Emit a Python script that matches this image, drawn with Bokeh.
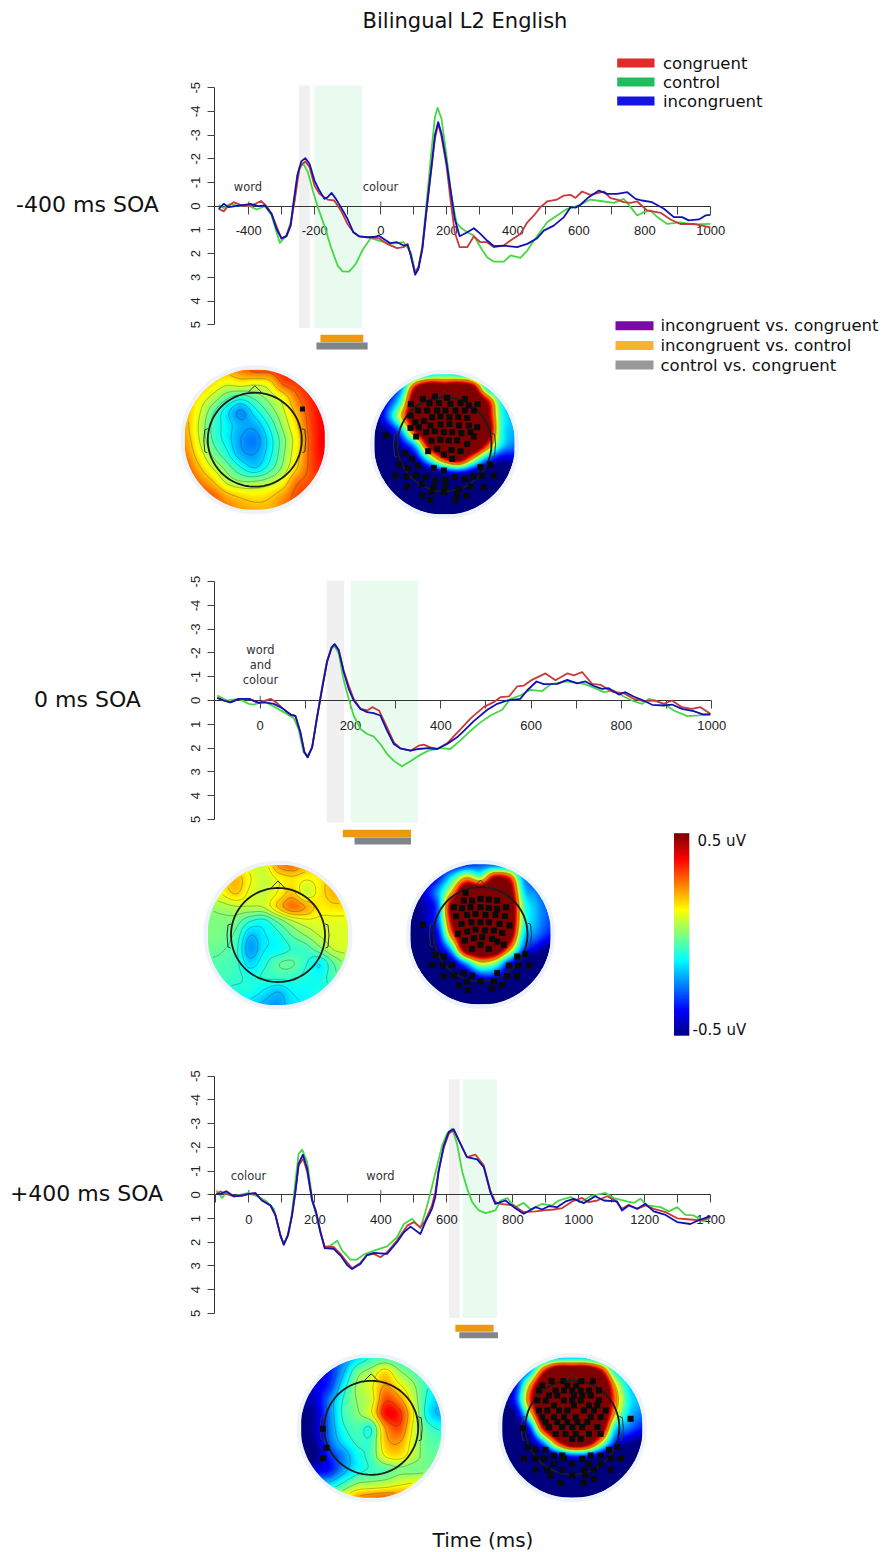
import math
import numpy as np
from bokeh.embed import file_html
from bokeh.resources import INLINE
from bokeh.plotting import figure
from bokeh.core.properties import value
from bokeh.models import (Range1d, LinearAxis, FixedTicker, LinearColorMapper)

# ---------------- ERP data: time (ms) and amplitude (uV), negative plotted up
P1_T_INC = [-491,-476,-461,-441,-416,-396,-371,-351,-331,-316,-301,-286,-273,-266,-253,-241,-229,-216,-201,-186,-171,-161,-149,-136,-121,-101,-83,-66,-41,-21,-6,9,29,49,69,81,91,104,114,126,141,154,164,174,184,199,214,224,239,262,282,302,322,343,373,413,444,474,494,524,555,575,590,605,630,661,686,716,747,772,792,822,858,888,913,933,964,984,999]
P1_V_INC = [.11,-.1,.04,0,-.05,-.1,0,-.03,.32,.96,1.35,1.27,.82,0,-1.3,-1.89,-2.03,-1.79,-1.08,-.66,-.31,-.38,-.56,-.31,.04,.53,1.1,1.27,1.31,1.3,1.24,1.38,1.56,1.52,1.66,1.63,2.08,2.89,2.65,1.8,-.17,-1.72,-2.99,-3.55,-3.06,-1.86,-.45,.53,1.27,1.1,.93,1.17,1.45,1.69,1.66,1.73,1.59,1.35,1.03,.82,.46,.04,.06,-.06,-.38,-.66,-.52,-.52,-.59,-.31,-.24,-.17,.11,.46,.46,.6,.56,.39,.37]
P1_T_CON = [-491,-476,-466,-446,-416,-391,-363,-346,-331,-301,-286,-273,-261,-246,-229,-216,-201,-186,-161,-141,-121,-101,-83,-66,-41,-6,19,49,69,81,91,104,114,126,141,154,164,174,184,199,214,224,239,262,282,302,322,343,373,393,423,444,464,484,504,534,555,575,590,610,635,676,696,716,736,757,777,807,848,878,908,948,999]
P1_V_CON = [.11,.22,.04,-.17,0,-.03,-.22,0,.32,1.38,1.24,.75,-.24,-1.65,-1.89,-1.65,-.87,-.52,-.28,-.24,.18,.75,1.1,1.27,1.31,1.35,1.59,1.77,1.73,1.59,2.08,2.79,2.58,1.73,-.10,-1.65,-2.85,-3.48,-2.93,-1.72,.04,1.1,1.73,1.73,1.27,1.52,1.52,1.73,1.66,1.45,1.17,.68,.39,.04,-.2,-.28,-.45,-.48,-.35,-.62,-.48,-.62,-.34,-.28,-.17,-.14,-.2,.18,.28,.56,.75,.75,.89]
P1_T_CTL = [-491,-476,-456,-431,-396,-376,-351,-331,-306,-286,-273,-261,-251,-236,-221,-206,-191,-171,-151,-131,-116,-96,-76,-56,-31,-6,29,69,91,104,114,126,139,152,164,172,184,199,214,229,241,262,282,302,322,343,373,393,423,444,464,504,534,565,605,635,666,706,736,757,777,797,817,838,868,908,948,999]
P1_V_CTL = [-.06,.08,-.1,0,0,.14,0,.39,1.55,1.24,.68,-.31,-1.44,-1.83,-1.44,-.66,.04,.82,1.73,2.5,2.75,2.76,2.44,1.87,1.35,1.45,1.59,1.52,1.94,2.79,2.58,1.66,-.17,-2.14,-3.76,-4.15,-3.69,-2.14,-.45,.68,.89,1.1,1.24,1.73,2.15,2.34,2.34,2.08,2.18,1.87,1.45,.68,.39,.11,-.06,-.28,-.22,-.14,-.31,.04,.39,.25,.18,.46,.75,.68,.77,.75]

P2_T_INC = [-95,-81,-66,-47,-25,-3,11,30,48,67,78,89,98,105,115,126,137,148,158,165,174,185,196,207,222,237,251,266,281,296,310,333,351,373,392,414,436,450,473,503,525,547,576,591,612,628,658,680,702,720,739,757,772,794,809,827,849,868,894,912,934,960,982,997]
P2_V_INC = [-.11,0,.08,-.07,-.07,.1,.08,.14,.31,.59,.65,1.34,2.18,2.39,1.97,.7,-.49,-1.62,-2.23,-2.37,-2.11,-1.2,-.49,0,.35,.49,.53,.63,1.27,1.83,2.01,2.11,2.04,2.0,2.04,1.83,1.55,1.3,.87,.39,.14,0,-.07,-.42,-.8,-.69,-.7,-.87,-.72,-.8,-.61,-.49,-.52,-.25,-.35,-.17,0,.18,.21,.17,.35,.45,.59,.59]
P2_T_CON = [-95,-81,-66,-47,-25,-3,11,23,37,48,67,78,89,98,105,115,126,137,148,158,165,174,185,196,207,222,237,248,263,281,296,310,333,351,362,377,392,414,429,444,466,495,517,532,551,569,584,602,632,654,680,695,713,735,754,768,783,805,827,849,875,894,912,934,956,975,997]
P2_V_CON = [-.11,0,.08,-.07,-.07,.1,0,-.07,.1,.31,.59,.65,1.34,2.18,2.39,1.97,.7,-.49,-1.62,-2.23,-2.37,-2.11,-1.25,-.63,-.07,.35,.42,.28,.42,1.13,1.76,2.01,2.11,1.9,1.86,1.97,2.04,1.8,1.5,1.2,.75,.28,.07,-.14,-.17,-.59,-.63,-.87,-1.14,-.85,-1.14,-1.06,-1.2,-.7,-.66,-.49,-.35,-.31,-.07,.03,0,.14,0,.28,.35,.28,.56]
P2_T_CTL = [-95,-73,-47,-25,-14,8,30,52,74,85,96,105,115,126,137,148,158,165,174,185,196,207,222,237,251,266,281,296,314,329,351,373,399,421,443,466,488,510,536,554,576,599,624,643,680,717,739,761,783,805,827,846,861,894,916,946,971,997]
P2_V_CTL = [-.21,0,-.07,.14,.17,.03,.25,.49,.73,1.2,2.18,2.32,1.97,.7,-.56,-1.69,-2.18,-2.28,-1.97,-.85,-.07,.63,1.2,1.41,1.51,1.83,2.25,2.54,2.77,2.6,2.32,2.11,2.0,2.04,1.69,1.27,.92,.63,.39,-.07,-.21,-.45,-.39,-.68,-.8,-.7,-.54,-.35,-.42,-.17,.03,.14,-.07,.14,.42,.66,.63,.56]

P3_T_INC = [-98,-86,-68,-45,-20,0,20,40,66,81,96,106,118,131,141,151,164,177,192,204,217,230,257,278,298,313,338,358,379,419,449,470,490,520,535,555,565,575,591,606,621,636,661,692,712,732,747,763,778,803,833,869,889,909,934,960,985,1015,1050,1076,1116,1131,1151,1177,1202,1227,1263,1298,1338,1369,1399]
P3_V_INC = [-.04,-.04,-.15,.07,.03,-.04,-.07,.24,.45,.87,1.72,2.1,1.72,.87,-.11,-1.31,-1.69,-1.1,.24,.73,1.58,2.25,2.28,2.56,2.96,3.13,2.92,2.54,2.45,2.49,2.0,1.58,1.34,1.65,1.15,.59,.1,-.96,-2.08,-2.65,-2.76,-2.3,-1.59,-1.49,-1.17,-.11,.38,.31,.24,.52,.8,.52,.62,.48,.52,.28,.17,.35,.06,.24,.28,.66,.45,.59,.38,.7,.85,1.15,1.23,1.04,.9]
P3_T_CON = [-98,-86,-68,-45,-20,0,20,40,66,81,96,106,118,131,141,151,165,177,192,204,217,230,257,278,298,313,338,358,379,399,419,449,480,500,520,535,555,565,576,591,606,621,636,661,687,712,732,747,763,803,833,869,894,924,950,980,1010,1030,1056,1086,1111,1131,1151,1177,1202,1227,1263,1298,1338,1369,1399]
P3_V_CON = [-.04,-.14,-.04,.07,.03,-.04,-.07,.24,.45,.87,1.72,2.1,1.72,.87,-.1,-1.24,-1.52,-.96,.24,.73,1.55,2.2,2.2,2.49,2.85,3.1,2.87,2.54,2.49,2.63,2.42,1.93,1.3,1.15,1.37,1.08,.45,-.11,-1.1,-1.99,-2.58,-2.72,-2.3,-1.59,-1.69,-1.24,-.18,.31,.38,.45,.73,.7,.66,.62,.56,.28,.13,.31,.24,.06,.24,.59,.42,.59,.45,.59,.73,.99,1.04,1.08,.94]
P3_T_CTL = [-98,-81,-66,-45,-5,25,50,76,96,106,121,131,141,151,162,177,192,204,217,230,248,268,283,308,328,348,379,419,449,470,495,520,535,551,571,586,601,616,631,647,662,677,697,717,747,763,783,808,833,854,889,919,939,975,1005,1035,1081,1106,1146,1167,1187,1207,1248,1273,1298,1323,1348,1379,1399]
P3_V_CTL = [-.18,.13,-.11,.06,-.07,.06,.24,.59,1.72,2.07,1.65,.73,-.54,-1.73,-1.9,-1.38,.17,.87,1.58,2.18,2.14,1.93,2.35,2.73,2.73,2.52,2.35,2.17,1.79,1.23,1.01,1.41,.73,-.11,-1.24,-2.08,-2.58,-2.79,-2.15,-.96,-.25,.31,.66,.77,.66,.24,.14,.52,.34,.62,.38,.45,.24,.1,.31,.06,-.08,.14,.28,.34,.17,.45,.52,.7,.52,.85,.87,1.13,.94]

# windows (ms)
P1_GRAY = (-248, -215); P1_GREEN = (-201, -56); P1_ORANGE = (-183, -53); P1_SIG = (-195, -40)
P2_GRAY = (147, 186);   P2_GREEN = (201, 350);  P2_ORANGE = (183, 334);  P2_SIG = (209, 334)
P3_GRAY = (606, 639);   P3_GREEN = (648, 752);  P3_ORANGE = (626, 742);  P3_SIG = (638, 755)

LEGEND_TOP = ["congruent", "control", "incongruent"]
LEGEND_TOP_COLORS = ["#e02b2b", "#1fbd5e", "#1414e0"]
LEGEND_CMP = ["incongruent vs. congruent", "incongruent vs. control", "control vs. congruent"]
LEGEND_CMP_COLORS = ["#7a0aa8", "#f5b32e", "#999999"]

# ---------------- topographies: 11 x 11 readings, tenths of a microvolt
MAP_A1 = [
 [2,2,2,2,2.5,3,3,3.5,3.5,3.8,3.8],
 [2.5,2.2,1.5,1.0,1.2,1.0,1.3,2.8,3.2,3.5,3.8],
 [2.2,1.4,.6,-.3,-.8,-.3,.4,1.2,2.6,3.4,3.8],
 [2,1,-.3,-1.4,-2.3,-1.3,-.3,.7,2,3.2,3.8],
 [2,.8,-.6,-1.3,-2,-2,-1,.3,1.6,3.1,3.8],
 [2.2,.9,-.5,-1.3,-2.2,-2.5,-1.4,-.1,1.3,3,3.9],
 [2.5,1.3,0,-.9,-2,-2.2,-1.3,0,1.4,3,3.8],
 [3,1.9,.8,-.1,-1,-1.6,-.8,.3,1.7,3,3.6],
 [3.2,2.6,1.8,.7,.2,.2,.5,1.2,2.6,3,3.3],
 [3.5,3.2,2.8,2,1.6,1.4,1.6,2.2,3,3.2,3.3],
 [3.5,3.5,3,2.6,2.2,2,2,2.5,3,3.3,3.3]]
MAP_A2 = [
 [-5,-5,-4,-2.5,-1.5,-1,-1.5,-2,-3,-4,-5],
 [-5,-4.5,-2,5,8,7,8,6,-1,-3,-4],
 [-5,-3.5,0,8,9,9,9,9,5,-1,-2.5],
 [-5,-2.5,2,8,9,9,9,9,6,-.5,-2],
 [-5,-4.5,-1.5,5,9,9,9,9,7,-.5,-2],
 [-6,-6,-4,-1,6,9,9,9,4,-1,-2.5],
 [-6,-6,-6,-4,0,4,6,2,-2,-4,-4],
 [-6,-6,-6,-6,-5,-4,-3.5,-4.5,-5.5,-6,-6],
 [-6]*11, [-6]*11, [-6]*11]
MAP_B1 = [
 [1.3,1.3,1.3,1,.8,2.2,2.6,2,1.5,1.5,1.5],
 [1.2,1.5,1.9,1.2,.7,1.2,1.5,1.2,1.4,2,2],
 [.8,1.2,1.7,1,.7,1.2,1.8,.8,1.4,2,2],
 [.2,.4,.6,.6,.7,1.7,2.6,2.1,1.4,1.5,1.5],
 [0,0,-.1,-.8,-1,-.2,.6,1,1,1,1],
 [0,-.1,-.5,-1.8,-1.4,-1,-.3,.2,.7,.9,.9],
 [-.2,-.3,-.7,-2.2,-1.4,-1.2,-.8,-.6,0,.7,.8],
 [-.4,-.5,-.7,-1.6,-1,-.4,-.3,-.8,-1.3,-.3,.3],
 [-.5,-.6,-.7,-1,-.8,-.7,-.7,-1,-1.1,-.5,0],
 [-1,-.9,-1,-1,-1.4,-1.8,-1.3,-1.2,-1,-.8,-.5],
 [-1,-1,-1.2,-1.6,-2,-2.2,-1.5,-1.3,-1,-1,-1]]
MAP_B2 = [
 [-5,-5,-4.5,-4,-3.5,-3,-3,-3.5,-4,-4.5,-5],
 [-5,-4.5,-3.5,-1,2,.5,5,4,-2,-3.5,-4],
 [-5,-4,-2,2,8,8,9,7,-1,-2.5,-3.5],
 [-5,-4.5,-2.5,6,9,9,9,8,0,-2,-3],
 [-5,-4.5,-2.5,5,9,9,9,8,0,-2,-3],
 [-5,-5,-3.5,3,8,9,9,7,-1,-2.5,-3.5],
 [-5.5,-5.5,-4.5,-1,7,9,8,3,-2.5,-4,-5],
 [-6,-6,-6,-4.5,-1.5,1.5,.5,-3,-5,-6,-6],
 [-6,-6,-6,-6,-5,-3.5,-3.5,-5,-6,-6,-6],
 [-6]*11, [-6]*11]
MAP_C1 = [
 [-3,-3,-3,-2.5,-1.5,-.8,-.5,-.8,-1,-1,-1],
 [-3.5,-3.5,-3.5,-2,-.2,.5,1.5,.3,-.4,-1,-1],
 [-4,-4,-3.3,-1.3,.3,1,2.2,1.3,.3,-.8,-1.5],
 [-4.5,-4.2,-2.5,-.8,.2,.8,3,2.4,.7,-1,-1.8],
 [-5,-4.5,-2.5,-.7,0,1,3.6,3.4,1.2,-1.2,-2],
 [-5,-4.5,-2.6,-1,-.5,-.8,2.2,3,1,-.5,-1],
 [-5,-4.7,-2.8,-1.5,-.7,-.6,1.8,2.2,.8,-.3,-.4],
 [-5.5,-5,-3.4,-2.4,-1.2,-.5,1.2,1.5,.6,-.2,-.2],
 [-4,-4,-3.6,-2.2,-1.2,-.7,-.4,0,-.1,0,0],
 [-2,-2,-1.6,-.7,.2,.4,.6,1,1.2,1,1],
 [-1,-1,0,1,2.2,2.6,2.8,2.6,2,1.5,1]]
MAP_C2 = [
 [-5,-5,-4,-3,-2,-1.8,-2,-3,-4,-5,-5],
 [-5,-4,-2,4,8,8,8,5,-1,-2.5,-4],
 [-5,-3.5,2,8,9,9,9,9,2,-1.5,-2.5],
 [-5,-3,3.5,9,9,9,9,9,3,-1,-2],
 [-5.5,-4.5,1,8,9,9,9,9,2,-1.5,-2.5],
 [-6,-5.5,-3,5,9,9,9,7,-1,-2.5,-3.5],
 [-6,-6,-5,-1.5,4,8,7,2,-3,-4.5,-5],
 [-6,-6,-6,-5.5,-4,-3,-3,-4.5,-5.5,-6,-6],
 [-6]*11, [-6]*11, [-6]*11]

# significant electrodes, offsets from the map centre in units of radius/210
EL_A1 = [(143,-92)]
EL_A2 = [(-101,-121),(-65,-136),(-29,-143),(8,-139),(61,-136),(99,-121),(-45,-123),(-17,-123),(18,-121),(48,-123),(73,-116),
 (-79,-101),(-52,-101),(-22,-101),(3,-101),(33,-101),(61,-101),(88,-101),(-102,-86),(-37,-81),(-12,-83),(15,-81),(41,-81),(68,-79),
 (-62,-69),(-87,-66),(-102,-49),(-77,-51),(-42,-56),(-12,-59),(15,-61),(43,-56),(73,-56),(98,-51),(-55,-36),(-29,-39),(-2,-36),(23,-36),(51,-33),(78,-36),
 (-85,-23),(-39,-11),(-12,-13),(13,-11),(38,-11),(68,-1),(88,-23),(-49,21),(-22,14),(-2,31),(21,17),(48,21),(23,44),
 (-175,-26),(-117,27),(-97,44),(-137,61),(-109,71),(-80,64),(-32,71),(-2,79),(108,69),(138,61),(-147,94),(-115,97),(-85,94),(-57,99),(-27,109),(3,109),(31,99),(61,104),(88,97),(113,94),(148,94),
 (-112,127),(-67,119),(-32,129),(3,127),(43,134),(78,127),(118,129),(-67,154),(-39,144),(-2,144),(38,149),(65,154),(33,169),(-42,167)]
EL_B2 = [(-45,-124),(-50,-101),(-25,-101),(0,-106),(25,-104),(50,-101),(-80,-81),(-55,-78),(-30,-81),(0,-81),(25,-79),(50,-76),(77,-81),
 (-73,-54),(-40,-58),(-15,-61),(15,-58),(45,-58),(73,-54),(-57,-31),(-27,-36),(0,-36),(25,-36),(57,-31),(87,-26),(-40,-8),(-15,-14),(13,-11),(40,-11),(65,-4),(-68,-1),
 (-47,19),(-20,12),(5,9),(35,14),(50,22),(-25,44),(0,32),(25,44),(70,32),
 (-172,-28),(-135,62),(-110,67),(-145,92),(-113,94),(-85,92),(-110,126),(-80,124),(-50,116),(-25,124),(-65,154),(-37,167),(-40,142),(0,142),(40,142),(35,164),(65,152),(50,116),(80,126),(110,126),(85,94),(113,94),(147,94),(110,67),(135,60)]
EL_C1 = [(-145,3),(-134,60),(-144,91)]
EL_C2 = [(-62,-139),(-27,-139),(27,-139),(62,-139),(-90,-126),(-15,-126),(12,-126),(-100,-111),(-50,-111),(-25,-111),(0,-111),(25,-111),(50,-111),(80,-111),
 (-70,-96),(-45,-96),(5,-96),(30,-96),(55,-96),(-105,-81),(-80,-81),(-25,-81),(0,-81),(25,-81),(80,-81),(-55,-66),(50,-66),(75,-66),(5,-66),
 (-100,-51),(-75,-51),(-40,-51),(-15,-51),(35,-51),(65,-51),(100,-51),(-90,-31),(-55,-31),(-25,-31),(10,-31),(55,-31),(85,-31),(-80,-16),(-45,-16),(-15,-16),(15,-16),(45,-16),
 (-70,-1),(-30,-1),(0,-1),(30,-1),(75,-1),(-50,19),(-20,19),(10,19),(50,19),(85,19),(0,34),(25,34),
 (-133,59),(135,59),(-110,67),(-80,67),(110,67),(-55,84),(-30,84),(55,84),(85,84),(-145,94),(-110,94),(-85,94),(-25,94),(30,94),(115,94),(145,94),
 (-55,109),(0,109),(50,109),(85,109),(-110,127),(-75,127),(-30,127),(35,127),(65,127),(115,127),(-65,144),(0,144),(40,144),(65,154),(-35,167),(35,167),(175,-26),(-148,2)]

LEVELS_A1 = [-2.2,-1.6,-1.05,-.45,.15,.85,1.75,2.75]
LEVELS_A2 = [1.55,2.05]
LEVELS_B1 = [-1.85,-1.35,-.85,-.35,.15,.65,1.15,1.65,2.15]
LEVELS_B2 = [1.55,2.05]
LEVELS_C1 = [-2.85,-1.85,-.85,.15,1.15,2.15,3.15]
LEVELS_C2 = [1.55,2.05]

# ---------------- page
p = figure(width=882, height=1552, x_range=Range1d(0, 882), y_range=Range1d(1552, 0),
           x_axis_type=None, y_axis_type=None, toolbar_location=None, output_backend="svg",
           min_border=0, outline_line_color=None, background_fill_color="white")
p.grid.visible = False

FONT = value("DejaVu Sans")
SANS = "Liberation Sans"

def txt(x, y, s, size, color="#111111", align="center"):
    p.text(x=[x], y=[y], text=[s], text_font=FONT, text_font_size=size, text_color=color,
           text_align=align, text_baseline="middle")

def jet():
    out = []
    for f in np.linspace(0, 1, 256):
        r = np.clip(min(4*f-1.5, -4*f+4.5), 0, 1)
        g = np.clip(min(4*f-.5, -4*f+3.5), 0, 1)
        b = np.clip(min(4*f+.5, -4*f+2.5), 0, 1)
        out.append("#%02x%02x%02x" % (int(r*255), int(g*255), int(b*255)))
    return out

MAPPER = LinearColorMapper(palette=jet(), low=-.5, high=.5, nan_color=(0, 0, 0, 0))

def upsample(grid, n):
    g = np.asarray(grid, float)
    m = g.shape[0]
    def cr(a, axis):
        a = np.moveaxis(a, axis, 0)
        pos = np.linspace(0, m-1, n)
        i = np.clip(np.floor(pos).astype(int), 0, m-2)
        t = pos - i
        im = np.clip(i-1, 0, m-1); ip = i+1; ipp = np.clip(i+2, 0, m-1)
        sh = (-1,) + (1,)*(a.ndim-1)
        t = t.reshape(sh)
        v = .5*((2*a[i]) + (-a[im]+a[ip])*t + (2*a[im]-5*a[i]+4*a[ip]-a[ipp])*t**2 + (-a[im]+3*a[i]-3*a[ip]+a[ipp])*t**3)
        return np.moveaxis(v, 0, axis)
    return cr(cr(g, 0), 1)

def topo(cx, cy, grid, levels, electrodes, el_size=6):
    R = 70.0
    n = 281
    z = upsample(grid, n) / 10.0
    xs = np.linspace(cx-R, cx+R, n); ys = np.linspace(cy-R, cy+R, n)
    X, Y = np.meshgrid(xs, ys)
    mask = (X-cx)**2 + (Y-cy)**2 > (R+1)**2
    img = z.copy(); img[mask] = np.nan
    p.image(image=[img], x=cx-R, y=cy-R, dw=2*R, dh=2*R, color_mapper=MAPPER, level="image")
    p.scatter([cx], [cy], size=2*R+5, marker="circle", fill_color=None, line_color="#eef3fb", line_width=4, level="image")
    zc = np.ma.masked_where((X-cx)**2 + (Y-cy)**2 > (R-1)**2, z*10)
    p.contour(xs, ys, zc, levels, fill_color=None, line_color="#333333", line_alpha=.5, line_width=.7)
    r = 47.0
    th = np.linspace(0, 2*math.pi, 120)
    p.line(cx + r*np.cos(th), cy + r*np.sin(th), line_color="#1c1c1c", line_width=1.8)
    p.line([cx-7, cx, cx+7], [cy-r, cy-54, cy-r], line_color="#333333", line_width=1)
    for s in (-1, 1):
        p.line([cx+s*r, cx+s*50, cx+s*51, cx+s*50, cx+s*r+s*.5], [cy-11, cy-10, cy, cy+12, cy+13], line_color="#333333", line_width=1)
    if electrodes:
        ex = [cx + a/3 for a, b in electrodes]; ey = [cy + b/3 for a, b in electrodes]
        p.scatter(ex, ey, marker="square", size=el_size, fill_color="#0a0a0a", line_color=None)

def panel(name, x0, kx, y0, ky, t_span, major, minor, curves, gray, green, orange, sig,
          shade_px, lane1_px, lane2_px):
    p.extra_x_ranges[name] = Range1d((0-x0)/kx, (882-x0)/kx)
    p.extra_y_ranges[name] = Range1d((1552-y0)/ky, (0-y0)/ky)
    V = lambda px: (px-y0)/ky
    kw = dict(x_range_name=name, y_range_name=name)
    p.quad(left=[gray[0]], right=[gray[1]], top=[V(shade_px[0])], bottom=[V(shade_px[1])], fill_color="#f0f0f0", line_color=None, level="image", **kw)
    p.quad(left=[green[0]], right=[green[1]], top=[V(shade_px[0])], bottom=[V(shade_px[1])], fill_color="#e8fbee", line_color=None, level="image", **kw)
    p.quad(left=[orange[0]], right=[orange[1]], top=[V(lane1_px[0])], bottom=[V(lane1_px[1])], fill_color="#eb9a0c", line_color=None, **kw)
    p.quad(left=[sig[0]], right=[sig[1]], top=[V(lane2_px[0])], bottom=[V(lane2_px[1])], fill_color="#7f8588", line_color=None, **kw)
    xa = LinearAxis(ticker=FixedTicker(ticks=major, minor_ticks=minor), fixed_location=0, bounds=t_span, **kw)
    xa.major_tick_in = 0; xa.major_tick_out = 8; xa.minor_tick_in = 0; xa.minor_tick_out = 8
    xa.axis_line_color = "#333333"; xa.major_tick_line_color = "#444444"; xa.minor_tick_line_color = "#444444"
    xa.major_label_text_font = SANS; xa.major_label_text_font_size = "13px"; xa.major_label_text_color = "#222222"
    xa.major_label_standoff = 12
    xa.major_label_overrides = {t: str(t) for t in major}
    xa.level = "underlay"
    p.add_layout(xa, "below")
    yt = [-5,-4,-3,-2,-1,0,1,2,3,4,5]
    ya = LinearAxis(ticker=FixedTicker(ticks=yt), fixed_location=t_span[0], bounds=(-5, 5), **kw)
    ya.major_tick_in = 0; ya.major_tick_out = 7; ya.minor_tick_line_color = None
    ya.axis_line_color = "#333333"; ya.major_tick_line_color = "#444444"
    ya.major_label_text_font = SANS; ya.major_label_text_font_size = "13px"; ya.major_label_text_color = "#222222"
    ya.major_label_orientation = "parallel"
    ya.major_label_standoff = 8
    ya.major_label_overrides = {t: str(t) for t in yt}
    ya.level = "underlay"
    p.add_layout(ya, "left")
    for (t, v, c) in curves:
        p.line(t, v, line_color=c, line_width=1.8, line_join="round", **kw)

C_CON, C_CTL, C_INC = "#c83a3a", "#45d845", "#1212b4"

panel("p1", 380.3, .33, 205.7, 23.7, (-503, 1000), [-400,-200,0,200,400,600,800,1000],
      [-300,-100,100,300,500,700,900],
      [(P1_T_CTL,P1_V_CTL,C_CTL),(P1_T_CON,P1_V_CON,C_CON),(P1_T_INC,P1_V_INC,C_INC)],
      P1_GRAY, P1_GREEN, P1_ORANGE, P1_SIG, (85, 327.5), (334.3, 341.7), (342, 349))
panel("p2", 259.7, .4515, 700, 23.77, (-100.5, 1000), [0,200,400,600,800,1000],
      [100,300,500,700,900],
      [(P2_T_CTL,P2_V_CTL,C_CTL),(P2_T_CON,P2_V_CON,C_CON),(P2_T_INC,P2_V_INC,C_INC)],
      P2_GRAY, P2_GREEN, P2_ORANGE, P2_SIG, (580, 822), (829.3, 836.7), (837, 844))
panel("p3", 248.3, .33, 1194.3, 23.73, (-103, 1400), [0,200,400,600,800,1000,1200,1400],
      [-100,100,300,500,700,900,1100,1300],
      [(P3_T_CTL,P3_V_CTL,C_CTL),(P3_T_CON,P3_V_CON,C_CON),(P3_T_INC,P3_V_INC,C_INC)],
      P3_GRAY, P3_GREEN, P3_ORANGE, P3_SIG, (1079, 1317.5), (1324.3, 1331.3), (1331.7, 1337.7))

# stimulus onset ticks
for name, times in (("p1", [-400, 0]), ("p2", [0]), ("p3", [0, 400])):
    p.segment(x0=times, x1=times, y0=[0]*len(times), y1=[-.2]*len(times), line_color="#555555",
              x_range_name=name, y_range_name=name, level="underlay")

topo(254.3, 439.2, MAP_A1, LEVELS_A1, EL_A1, 5)
topo(444.0, 443.7, MAP_A2, LEVELS_A2, EL_A2)
topo(277.5, 934.5, MAP_B1, LEVELS_B1, [])
topo(480.0, 933.7, MAP_B2, LEVELS_B2, EL_B2)
topo(370.7, 1427.3, MAP_C1, LEVELS_C1, EL_C1, 6)
topo(571.8, 1427.0, MAP_C2, LEVELS_C2, EL_C2)

# colour bar
grad = np.linspace(.5, -.5, 203).reshape(-1, 1)
p.image(image=[grad], x=673.5, y=832.7, dw=15.3, dh=202.5, color_mapper=MAPPER, level="image")

# texts
txt(464.5, 20, "Bilingual L2 English", "21px")
txt(482.5, 1539, "Time (ms)", "20px")
txt(87, 204, "-400 ms SOA", "22px")
txt(87, 699, "0 ms SOA", "22px")
txt(86, 1193, "+400 ms SOA", "22px")
txt(247.5, 186.5, "word", "11.5px", "#333333")
txt(380, 186.5, "colour", "11.5px", "#333333")
txt(260, 649.5, "word", "11.5px", "#333333")
txt(260, 664.5, "and", "11.5px", "#333333")
txt(260, 679.5, "colour", "11.5px", "#333333")
txt(248, 1175, "colour", "11.5px", "#333333")
txt(380, 1175, "word", "11.5px", "#333333")
txt(697, 840.5, "0.5 uV", "15px", align="left")
txt(692, 1029, "-0.5 uV", "15px", align="left")

for i, (s, c) in enumerate(zip(LEGEND_TOP, LEGEND_TOP_COLORS)):
    y = 62.5 + i*19
    p.quad(left=[616.7], right=[654], top=[y-4.5], bottom=[y+4.5], fill_color=c, line_color=None)
    txt(662.5, y, s, "16.5px", align="left")
for i, (s, c) in enumerate(zip(LEGEND_CMP, LEGEND_CMP_COLORS)):
    y = 325.2 + i*19.7
    p.quad(left=[615], right=[653], top=[y-4.5], bottom=[y+4.5], fill_color=c, line_color=None)
    txt(660, y, s, "16.5px", align="left")

open("out.html", "w").write(file_html(p, INLINE))
